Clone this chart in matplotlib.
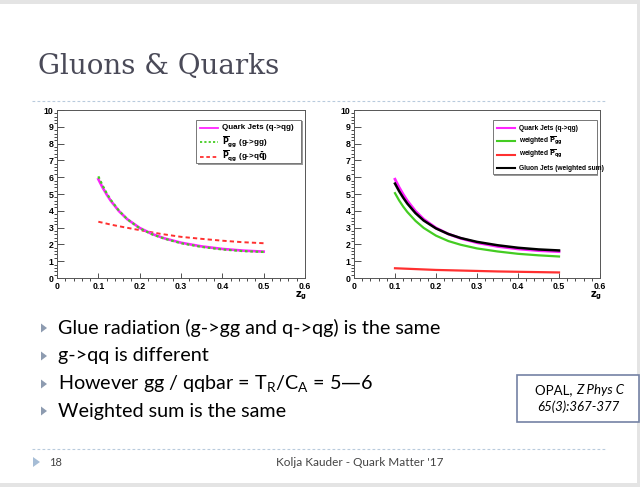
import matplotlib.pyplot as plt
from matplotlib.patches import Rectangle, Polygon
from matplotlib.lines import Line2D
from matplotlib.ticker import MultipleLocator, FixedLocator
import numpy as np

W, H = 640, 487

z = [0.10, 0.11, 0.12, 0.13, 0.15, 0.17, 0.20, 0.23, 0.26, 0.30, 0.35, 0.40, 0.45, 0.50]
quark_jets = [5.88, 5.40, 4.98, 4.60, 3.98, 3.50, 2.98, 2.62, 2.36, 2.10, 1.88, 1.73, 1.63, 1.57]
p_gg = [6.05, 5.52, 5.05, 4.65, 4.00, 3.50, 2.96, 2.60, 2.34, 2.07, 1.85, 1.70, 1.60, 1.55]
z_q = [0.10, 0.13, 0.15, 0.20, 0.25, 0.30, 0.35, 0.40, 0.45, 0.50]
p_qg = [3.35, 3.18, 3.08, 2.85, 2.63, 2.45, 2.33, 2.22, 2.13, 2.07]

gluon_jets = [5.62, 5.17, 4.78, 4.43, 3.86, 3.42, 2.95, 2.62, 2.38, 2.15, 1.95, 1.80, 1.70, 1.64]
weighted_gg = [5.05, 4.62, 4.25, 3.93, 3.40, 2.98, 2.52, 2.20, 1.98, 1.76, 1.58, 1.44, 1.35, 1.28]
weighted_qg = [0.58, 0.55, 0.53, 0.48, 0.45, 0.42, 0.39, 0.37, 0.35, 0.33]

x_ticks = [0, 0.1, 0.2, 0.3, 0.4, 0.5, 0.6]
x_labels = ["0", "0.1", "0.2", "0.3", "0.4", "0.5", "0.6"]
y_ticks = list(range(11))

bullets = ["Glue radiation (g->gg and q->qg) is the same",
           "g->qq is different",
           r"However gg / qqbar = T$_\mathregular{R}$/C$_\mathregular{A}$ = 5" + "\u2014" + "6",
           "Weighted sum is the same"]

MAG = "#ff22ff"
GRN = "#44cc22"
RED = "#ff3030"
ROOTFONT = "Liberation Sans"


def fx(x):
    return x / W


def fy(y):
    return 1 - y / H


fig = plt.figure(figsize=(6.4, 4.87), dpi=100)
fig.patch.set_facecolor("#e4e4e4")
# white slide area
fig.patches.append(Rectangle((0, fy(483)), fx(637), fy(4) - fy(483),
                             transform=fig.transFigure, facecolor="white",
                             edgecolor="none", zorder=-5))


def root_axes(left, top, right, bottom):
    ax = fig.add_axes([fx(left), fy(bottom), fx(right) - fx(left), fy(top) - fy(bottom)])
    ax.set_zorder(1)
    ax.set_xlim(0, 0.6)
    ax.set_ylim(0, 10)
    ax.xaxis.set_major_locator(FixedLocator(x_ticks))
    ax.set_xticklabels(x_labels)
    ax.yaxis.set_major_locator(FixedLocator(y_ticks))
    ax.xaxis.set_minor_locator(MultipleLocator(0.02))
    ax.yaxis.set_minor_locator(MultipleLocator(0.2))
    ax.tick_params(direction="in", top=False, right=False, colors="#333333",
                   labelcolor="black", labelsize=6.3, width=0.6)
    ax.tick_params(axis="y", which="major", length=5, pad=2.5)
    ax.tick_params(axis="y", which="minor", length=2.5, width=0.5)
    ax.tick_params(axis="x", which="major", length=3.8, pad=3)
    ax.tick_params(axis="x", which="minor", length=1.9, width=0.5)
    for lab in ax.get_xticklabels() + ax.get_yticklabels():
        lab.set_family(ROOTFONT)
        lab.set_weight("bold")
    for sp in ax.spines.values():
        sp.set_color("#555555")
        sp.set_linewidth(0.7)
    return ax


def root_legend(x0, y0, x1, y1, entries, fsize):
    # box in figure pixels, ROOT style with a drop shadow
    fig.patches.append(Rectangle((fx(x0) + fx(1.5), fy(y1) - 1.5 / H), fx(x1 - x0), fy(y0) - fy(y1),
                                 transform=fig.transFigure, facecolor="#999999",
                                 edgecolor="none", zorder=5))
    fig.patches.append(Rectangle((fx(x0), fy(y1)), fx(x1 - x0), fy(y0) - fy(y1),
                                 transform=fig.transFigure, facecolor="white",
                                 edgecolor="#777777", linewidth=0.7, zorder=6))
    for (ypix, label, color, ls, lw, lx0, lx1, tx) in entries:
        fig.lines.append(Line2D([fx(lx0), fx(lx1)], [fy(ypix), fy(ypix)],
                                transform=fig.transFigure, color=color,
                                linestyle=ls, linewidth=lw, zorder=7))
        fig.text(fx(tx), fy(ypix), label, fontsize=fsize, family=ROOTFONT,
                 weight="bold", va="center", ha="left", zorder=8)


# ---- left canvas
ax1 = root_axes(57, 110, 305, 278)
ax1.plot(z_q, p_qg, color=RED, linestyle=(0, (2.2, 1.6)), linewidth=1.4)
ax1.plot(z, quark_jets, color=MAG, linewidth=1.9)
ax1.plot(z, p_gg, color=GRN, linestyle=(0, (1.2, 1.2)), linewidth=1.6)
fig.text(fx(301), fy(296), r"$\mathbf{z_g}$", fontsize=7, ha="center", va="center")

root_legend(196, 120, 301, 163, [
    (127.5, "Quark Jets (q->qg)", MAG, "-", 1.3, 200, 218, 222),
    (142, r"$\overline{\mathbf{P}}_\mathbf{gg}$ (g->gg)", GRN, (0, (1.2, 1.2)), 1.3, 200, 218, 222),
    (156.5, r"$\overline{\mathbf{P}}_\mathbf{qg}$ (g->q$\mathbf{\bar{q}}$)", RED, (0, (2, 1.5)), 1.3, 200, 218, 222),
], 5.8)

# ---- right canvas
ax2 = root_axes(354, 110, 600, 278)
ax2.plot(z_q, weighted_qg, color=RED, linewidth=1.6)
ax2.plot(z, weighted_gg, color=GRN, linewidth=1.6)
ax2.plot(z, quark_jets, color=MAG, linewidth=2.0)
ax2.plot(z, gluon_jets, color="black", linewidth=1.8)
fig.text(fx(596), fy(296), r"$\mathbf{z_g}$", fontsize=7, ha="center", va="center")

root_legend(493, 120, 597, 174, [
    (128, "Quark Jets (q->qg)", MAG, "-", 1.5, 497, 515, 519),
    (141, r"weighted $\overline{\mathbf{P}}_\mathbf{gg}$", GRN, "-", 1.5, 497, 515, 519),
    (154.5, r"weighted $\overline{\mathbf{P}}_\mathbf{qg}$", RED, "-", 1.5, 497, 515, 519),
    (168, "Gluon Jets (weighted sum)", "black", "-", 1.5, 497, 515, 519),
], 4.8)

# ---- slide decorations
fig.text(fx(38), fy(66), "Gluons & Quarks", fontsize=20, family="DejaVu Serif",
         color="#4a4a58", va="center", ha="left")
for yl in (101, 449):
    fig.lines.append(Line2D([fx(32), fx(605)], [fy(yl), fy(yl)], transform=fig.transFigure,
                            color="#b9cbdd", linewidth=0.8, linestyle=(0, (2.5, 2))))

row_y = [328, 356, 384, 411]
for yb, txt in zip(row_y, bullets):
    fig.patches.append(Polygon([[fx(41), fy(yb - 4.5)], [fx(41), fy(yb + 4.5)], [fx(47), fy(yb)]],
                               closed=True, transform=fig.transFigure,
                               facecolor="#8d9bb0", edgecolor="none"))
    fig.text(fx(58), fy(yb), txt, fontsize=14.2, family="Lato", color="black",
             va="center", ha="left")

# reference box
fig.patches.append(Rectangle((fx(517), fy(422)), fx(122), fy(375) - fy(422),
                             transform=fig.transFigure, facecolor="white",
                             edgecolor="#7482a4", linewidth=1.2, zorder=3))
fig.text(fx(576), fy(390), "OPAL, ", fontsize=9.5, family="Lato", ha="right",
         va="center", zorder=4)
fig.text(fx(576), fy(390), "Z Phys C", fontsize=9.5, family="Lato", style="italic",
         ha="left", va="center", zorder=4)
fig.text(fx(578), fy(407), "65(3):367-377", fontsize=9.5, family="Lato", style="italic",
         ha="center", va="center", zorder=4)

# footer
fig.patches.append(Polygon([[fx(33), fy(457)], [fx(33), fy(467)], [fx(40), fy(462)]],
                           closed=True, transform=fig.transFigure,
                           facecolor="#a6bdd6", edgecolor="none"))
fig.text(fx(49), fy(462), "18", fontsize=8, family="Lato", color="#444444",
         va="center", ha="left")
fig.text(fx(360), fy(462), "Kolja Kauder - Quark Matter '17", fontsize=8.5, family="Lato",
         color="#444444", va="center", ha="center")

fig.savefig("out.png", dpi=100, facecolor=fig.get_facecolor())
